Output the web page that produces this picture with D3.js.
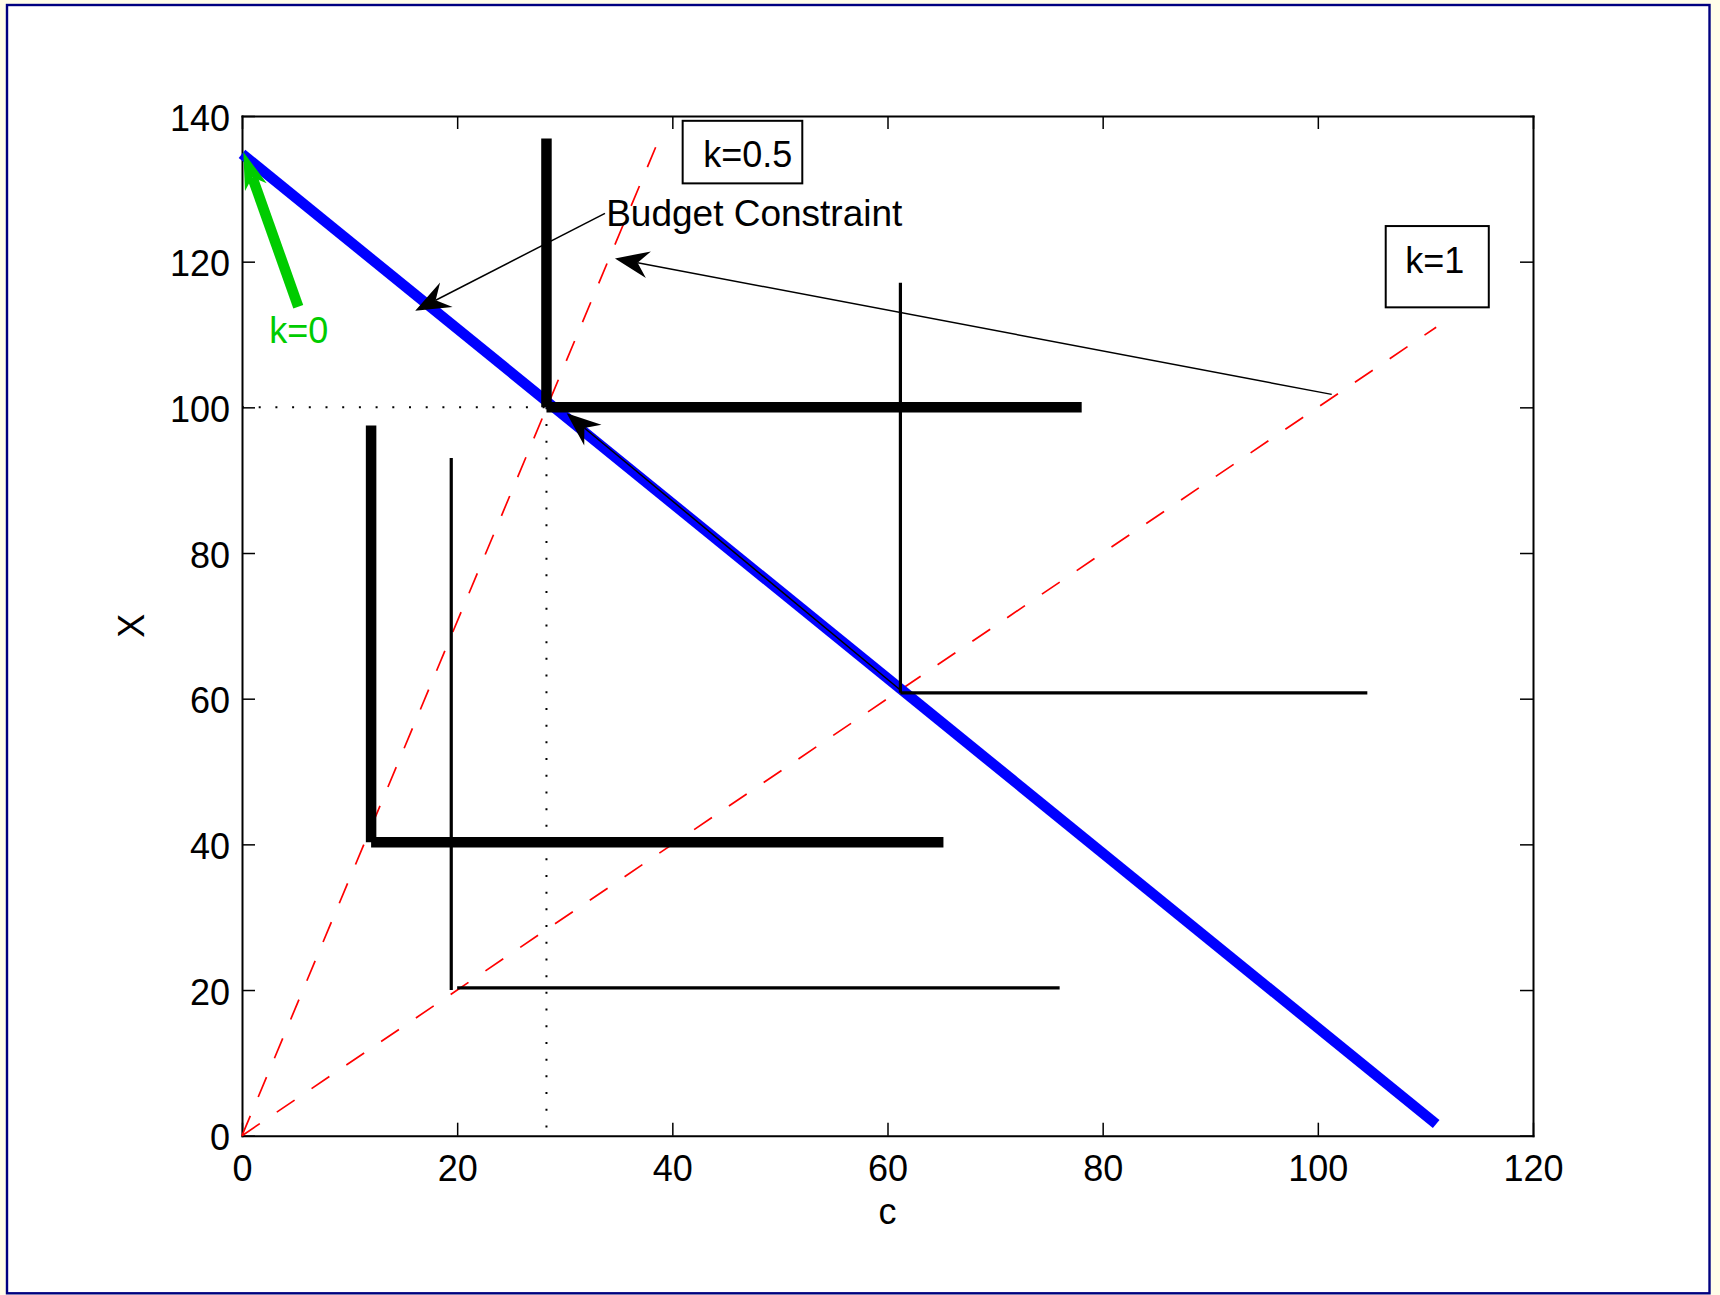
<!DOCTYPE html>
<html>
<head>
<meta charset="utf-8">
<script src="https://cdn.jsdelivr.net/npm/d3@7"></script>
<style>
  html, body { margin: 0; padding: 0; background: #fffde9; }
  svg { display: block; }
  text { font-family: "Liberation Sans", Arial, Helvetica, sans-serif; }
</style>
</head>
<body>
<svg id="chart" width="1720" height="1295"></svg>
<script>
// ---- axis setup ----
const xDomain = [0, 120];
const yDomain = [0, 140];
const xTicks = [0, 20, 40, 60, 80, 100, 120];
const yTicks = [0, 20, 40, 60, 80, 100, 120, 140];
const xLabel = "c";
const yLabel = "X";

// ---- budget constraint (c, X) ----
const budgetLine = [[0, 134.8], [111, 1.6]];

// ---- expansion rays from the origin ----
const rayHalf = [[0, 0], [38.76, 136.8]];   // k = 0.5
const rayOne  = [[0, 0], [111, 111]];       // k = 1

// ---- Leontief indifference curves: vertical arm, horizontal arm ----
const thickUpperV = [[28.3, 136.9], [28.3, 100]];
const thickUpperH = [[28.3, 100], [78.05, 100]];
const thickLowerV = [[12, 97.5], [12, 40.3]];
const thickLowerH = [[12, 40.3], [65.2, 40.3]];
const thinUpperV  = [[61.2, 117.1], [61.2, 60.8]];
const thinUpperH  = [[61.2, 60.8], [104.6, 60.8]];
const thinLowerV  = [[19.45, 93.05], [19.45, 20]];
const thinLowerH  = [[20, 20.3], [76, 20.3]];

// ---- dotted guides to the optimum ----
const guideH = [[0, 100], [28.3, 100]];
const guideV = [[28.3, 100], [28.3, -0.8]];

// ---- annotation arrows: [tail, tip] ----
const arrowBudget = [[33.74, 126.64], [16.10, 113.26]];
const arrowK1     = [[101.29, 101.78], [34.67, 120.45]];
const arrowCorner = [[61.19, 61.19], [30.18, 99.18]];
const arrowK0     = [[5.23, 113.81], [0.12, 135.09]];

// ---- labels ----
const budgetText = { text: "Budget Constraint", at: [33.85, 124.9] };
const k0Text     = { text: "k=0", at: [2.53, 108.9] };
const boxHalf    = { text: "k=0.5", box: [[40.96, 139.34], [52.08, 130.75]], at: [42.88, 133.03] };
const boxOne     = { text: "k=1",   box: [[106.31, 124.89], [115.89, 113.73]], at: [108.13, 118.48] };

const FONT = 36;
const GREEN = "rgb(0,204,0)";
const DASH = "21.5,20.5";
const DOT = "2,14.7";

const svg = d3.select("#chart");

// figure background and frame
svg.append("rect").attr("x", 0).attr("y", 0).attr("width", 1720).attr("height", 1295).attr("fill", "#fffde9");
svg.append("rect").attr("x", 7).attr("y", 5).attr("width", 1702.5).attr("height", 1288.3)
  .attr("fill", "#ffffff").attr("stroke", "#000080").attr("stroke-width", 2.4);

const x = d3.scaleLinear().domain(xDomain).range([242, 1533]);
const y = d3.scaleLinear().domain(yDomain).range([1135.7, 116]);

const line = d3.line().x(d => x(d[0])).y(d => y(d[1]));

function seg(pts, stroke, width, dash) {
  const p = svg.append("path").attr("d", line(pts)).attr("fill", "none")
    .attr("stroke", stroke).attr("stroke-width", width).attr("stroke-linecap", "butt");
  if (dash) p.attr("stroke-dasharray", dash);
  return p;
}

// arrow with a notched ("vback") head
function arrow(pts, color, width, L, W, N) {
  const x0 = x(pts[0][0]), y0 = y(pts[0][1]);
  const x1 = x(pts[1][0]), y1 = y(pts[1][1]);
  const len = Math.hypot(x1 - x0, y1 - y0);
  const ux = (x1 - x0) / len, uy = (y1 - y0) / len;
  const px = -uy, py = ux;
  svg.append("line")
    .attr("x1", x0).attr("y1", y0)
    .attr("x2", x1 - N * ux).attr("y2", y1 - N * uy)
    .attr("stroke", color).attr("stroke-width", width);
  const head = [
    [x1, y1],
    [x1 - L * ux + W * px, y1 - L * uy + W * py],
    [x1 - N * ux, y1 - N * uy],
    [x1 - L * ux - W * px, y1 - L * uy - W * py]
  ];
  svg.append("path").attr("d", "M" + head.map(p => p.join(",")).join("L") + "Z").attr("fill", color);
}

// axes (ticks point inward on all four sides)
function styleAxis(g) {
  g.attr("font-size", FONT).attr("font-family", "Liberation Sans, Arial, sans-serif");
  g.select(".domain").attr("stroke", "#000").attr("stroke-width", 2).attr("stroke-linecap", "square");
  g.selectAll(".tick line").attr("stroke", "#000").attr("stroke-width", 1.5);
  g.selectAll(".tick text").attr("fill", "#000");
}
svg.append("g").attr("transform", `translate(0,${y(0)})`)
  .call(d3.axisBottom(x).tickValues(xTicks).tickSizeInner(-13).tickSizeOuter(0).tickPadding(20))
  .call(styleAxis);
svg.append("g").attr("transform", `translate(0,${y(140)})`)
  .call(d3.axisTop(x).tickValues(xTicks).tickFormat(() => "").tickSizeInner(-13).tickSizeOuter(0))
  .call(styleAxis);
const gl = svg.append("g").attr("transform", `translate(${x(0)},0)`)
  .call(d3.axisLeft(y).tickValues(yTicks).tickSizeInner(-13).tickSizeOuter(0).tickPadding(12))
  .call(styleAxis);
gl.selectAll(".tick text").attr("dy", "0.39em");
svg.append("g").attr("transform", `translate(${x(120)},0)`)
  .call(d3.axisRight(y).tickValues(yTicks).tickFormat(() => "").tickSizeInner(-13).tickSizeOuter(0))
  .call(styleAxis);

// axis titles
svg.append("text").attr("x", (x(0) + x(120)) / 2).attr("y", 1224)
  .attr("text-anchor", "middle").attr("font-size", FONT).text(xLabel);
svg.append("text").attr("transform", `translate(143.7,${(y(0) + y(140)) / 2}) rotate(-90)`)
  .attr("text-anchor", "middle").attr("font-size", FONT).text(yLabel);

// rays
seg(rayHalf, "#ff0000", 1.7, DASH);
seg(rayOne, "#ff0000", 1.7, DASH);

// budget line
seg(budgetLine, "#0000ff", 10.5);

// indifference curves
[thickUpperV, thickUpperH, thickLowerV, thickLowerH].forEach(s => seg(s, "#000", 10.5));
[thinUpperV, thinUpperH, thinLowerV, thinLowerH].forEach(s => seg(s, "#000", 3.2));

// dotted guides
seg(guideH, "#000", 2, DOT);
seg(guideV, "#000", 2, DOT);

// annotation arrows
arrow(arrowBudget, "#000", 1.5, 35, 13.7, 23);
arrow(arrowK1, "#000", 1.5, 34, 13.5, 23);
arrow(arrowCorner, "#000", 1.5, 34, 13.5, 23);
arrow(arrowK0, GREEN, 10.5, 37.6, 11.5, 27);

// labels
svg.append("text").attr("x", x(budgetText.at[0])).attr("y", y(budgetText.at[1]))
  .attr("font-size", 37).attr("fill", "#000").text(budgetText.text);
svg.append("text").attr("x", x(k0Text.at[0])).attr("y", y(k0Text.at[1]))
  .attr("font-size", FONT).attr("fill", GREEN).text(k0Text.text);

[boxHalf, boxOne].forEach(b => {
  const bx = x(b.box[0][0]), by = y(b.box[0][1]);
  svg.append("rect").attr("x", bx).attr("y", by)
    .attr("width", x(b.box[1][0]) - bx).attr("height", y(b.box[1][1]) - by)
    .attr("fill", "#fff").attr("stroke", "#000").attr("stroke-width", 2);
  svg.append("text").attr("x", x(b.at[0])).attr("y", y(b.at[1]))
    .attr("font-size", FONT).attr("fill", "#000").text(b.text);
});
</script>
</body>
</html>
